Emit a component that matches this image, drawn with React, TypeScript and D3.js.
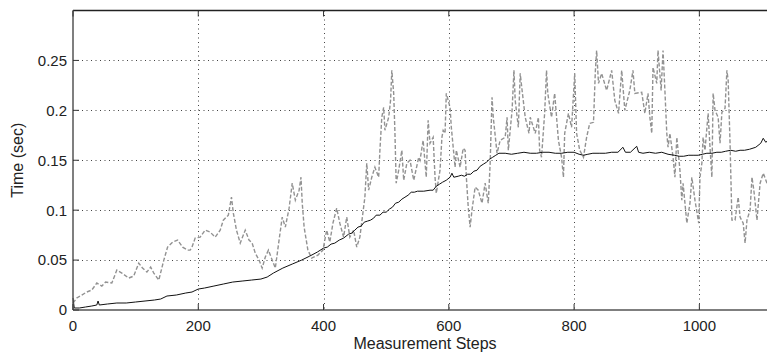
import React from "react";
import * as d3 from "d3";

const W = 767;
const H = 353;

const xTicks = [0, 200, 400, 600, 800, 1000];
const yTicks = [0, 0.05, 0.1, 0.15, 0.2, 0.25];
const yTickLabels = ["0", "0.05", "0.1", "0.15", "0.2", "0.25"];

const blackSeries: [number, number][] = [
  [0, 0.012], [2, 0.002], [10, 0.002], [20, 0.003], [30, 0.004], [38, 0.005], [40, 0.009], [42, 0.005],
  [55, 0.006], [70, 0.007], [85, 0.007], [100, 0.008], [115, 0.009], [130, 0.01], [140, 0.011], [150, 0.014],
  [165, 0.015], [180, 0.017], [190, 0.018], [200, 0.021], [210, 0.022], [225, 0.024], [240, 0.026], [255, 0.028],
  [270, 0.029], [285, 0.03], [300, 0.031], [310, 0.033], [320, 0.037], [335, 0.042], [350, 0.046], [365, 0.05],
  [378, 0.054], [390, 0.058], [400, 0.062], [406, 0.063], [412, 0.066], [418, 0.067], [425, 0.07], [432, 0.072],
  [440, 0.076], [445, 0.077], [450, 0.08], [455, 0.083], [460, 0.084], [465, 0.088], [470, 0.089], [475, 0.09],
  [480, 0.092], [484, 0.095], [490, 0.095], [495, 0.098], [500, 0.098], [505, 0.101], [510, 0.103], [515, 0.107],
  [520, 0.108], [525, 0.111], [530, 0.113], [535, 0.115], [540, 0.118], [545, 0.118], [550, 0.119], [560, 0.119],
  [570, 0.12], [575, 0.12], [580, 0.124], [585, 0.126], [590, 0.128], [596, 0.13], [602, 0.133], [605, 0.137],
  [608, 0.133], [615, 0.134], [620, 0.135], [625, 0.134], [630, 0.136], [635, 0.136], [640, 0.139], [645, 0.14],
  [650, 0.144], [655, 0.146], [660, 0.148], [665, 0.151], [670, 0.153], [675, 0.155], [680, 0.157], [690, 0.157],
  [700, 0.156], [710, 0.157], [720, 0.158], [730, 0.157], [740, 0.157], [750, 0.158], [760, 0.158], [770, 0.157],
  [780, 0.157], [790, 0.158], [800, 0.158], [808, 0.156], [815, 0.155], [822, 0.156], [830, 0.157], [840, 0.157],
  [850, 0.157], [860, 0.158], [870, 0.158], [878, 0.163], [882, 0.158], [890, 0.158], [900, 0.164], [903, 0.158],
  [910, 0.157], [920, 0.158], [930, 0.157], [940, 0.158], [950, 0.156], [960, 0.155], [968, 0.154], [975, 0.154],
  [983, 0.155], [990, 0.155], [998, 0.155], [1005, 0.156], [1012, 0.157], [1020, 0.157], [1028, 0.158],
  [1035, 0.158], [1042, 0.159], [1050, 0.16], [1058, 0.159], [1065, 0.16], [1072, 0.16], [1080, 0.161],
  [1090, 0.163], [1098, 0.167], [1102, 0.172], [1106, 0.168], [1108, 0.169],
];

const graySeries: [number, number][] = [
  [0, 0.007], [6, 0.012], [14, 0.015], [22, 0.018], [30, 0.02], [38, 0.027], [46, 0.024], [52, 0.028], [62, 0.027],
  [70, 0.04], [78, 0.037], [89, 0.032], [97, 0.034], [105, 0.047], [111, 0.042], [118, 0.038], [124, 0.043],
  [129, 0.037], [137, 0.03], [145, 0.05], [151, 0.063], [159, 0.068], [167, 0.07], [175, 0.063], [183, 0.06],
  [187, 0.06], [190, 0.063], [195, 0.072], [203, 0.073], [211, 0.08], [219, 0.078], [227, 0.073], [235, 0.08],
  [240, 0.09], [248, 0.095], [253, 0.113], [256, 0.097], [261, 0.08], [267, 0.067], [275, 0.08], [281, 0.07],
  [286, 0.067], [291, 0.057], [297, 0.05], [302, 0.042], [307, 0.053], [312, 0.06], [318, 0.05], [323, 0.042],
  [329, 0.07], [334, 0.093], [339, 0.083], [345, 0.102], [350, 0.127], [355, 0.11], [361, 0.12], [364, 0.133],
  [366, 0.107], [369, 0.083], [375, 0.06], [381, 0.052], [391, 0.055], [399, 0.06], [405, 0.08], [410, 0.068],
  [415, 0.087], [421, 0.102], [426, 0.087], [432, 0.073], [437, 0.093], [442, 0.073], [448, 0.08], [453, 0.063],
  [458, 0.073], [464, 0.103], [466, 0.113], [469, 0.147], [472, 0.12], [477, 0.133], [482, 0.143], [488, 0.133],
  [490, 0.16], [493, 0.193], [496, 0.203], [498, 0.18], [504, 0.193], [507, 0.21], [509, 0.24], [512, 0.217],
  [514, 0.177], [516, 0.127], [520, 0.14], [525, 0.16], [528, 0.13], [533, 0.147], [538, 0.15], [544, 0.13],
  [552, 0.153], [554, 0.15], [559, 0.17], [564, 0.133], [567, 0.19], [570, 0.167], [575, 0.173], [578, 0.133],
  [580, 0.117], [586, 0.14], [589, 0.173], [591, 0.18], [594, 0.177], [596, 0.217], [599, 0.21], [602, 0.203],
  [604, 0.183], [607, 0.163], [610, 0.143], [612, 0.16], [618, 0.143], [623, 0.162], [626, 0.16], [628, 0.133],
  [631, 0.103], [634, 0.083], [637, 0.1], [642, 0.123], [647, 0.12], [653, 0.107], [658, 0.127], [663, 0.107],
  [666, 0.147], [669, 0.213], [671, 0.193], [677, 0.157], [682, 0.17], [690, 0.173], [693, 0.193], [695, 0.16],
  [701, 0.2], [704, 0.24], [706, 0.21], [711, 0.183], [714, 0.237], [717, 0.22], [722, 0.193], [728, 0.177],
  [730, 0.193], [738, 0.177], [743, 0.193], [745, 0.16], [748, 0.153], [753, 0.197], [756, 0.24], [758, 0.217],
  [764, 0.193], [769, 0.217], [775, 0.17], [780, 0.153], [783, 0.133], [785, 0.177], [791, 0.197], [796, 0.183],
  [801, 0.237], [804, 0.177], [809, 0.16], [815, 0.153], [820, 0.173], [825, 0.187], [831, 0.188], [834, 0.24],
  [836, 0.26], [839, 0.227], [844, 0.237], [852, 0.22], [860, 0.24], [865, 0.21], [871, 0.197], [876, 0.24],
  [881, 0.2], [889, 0.22], [894, 0.24], [897, 0.217], [908, 0.218], [913, 0.197], [918, 0.217], [921, 0.193],
  [924, 0.177], [926, 0.243], [932, 0.227], [934, 0.26], [939, 0.22], [942, 0.26], [945, 0.22], [948, 0.177],
  [950, 0.163], [953, 0.177], [958, 0.153], [961, 0.133], [964, 0.173], [969, 0.14], [972, 0.11], [974, 0.127],
  [980, 0.087], [985, 0.107], [988, 0.133], [993, 0.11], [999, 0.087], [1001, 0.133], [1004, 0.147],
  [1006, 0.173], [1009, 0.16], [1014, 0.197], [1017, 0.163], [1020, 0.133], [1022, 0.217], [1025, 0.2],
  [1030, 0.193], [1033, 0.167], [1036, 0.198], [1041, 0.202], [1044, 0.24], [1046, 0.23], [1049, 0.167],
  [1052, 0.09], [1057, 0.09], [1062, 0.113], [1065, 0.093], [1070, 0.087], [1073, 0.067], [1076, 0.09],
  [1081, 0.1], [1084, 0.133], [1087, 0.12], [1092, 0.09], [1097, 0.127], [1102, 0.137], [1108, 0.127],
];

const xLabel = "Measurement Steps";
const yLabel = "Time (sec)";

export default function App() {
  const left = 73;
  const right = 767;
  const top = 10.5;
  const bottom = 310;
  const x = d3.scaleLinear().domain([0, 1108]).range([left, right]);
  const y = d3.scaleLinear().domain([0, 0.3]).range([bottom, top]);
  const line = d3
    .line<[number, number]>()
    .x((d) => x(d[0]))
    .y((d) => y(d[1]));
  const font = "'Liberation Sans', Arial, Helvetica, sans-serif";

  return (
    <svg
      width={W}
      height={H}
      style={{ position: "absolute", left: 0, top: 0, background: "#fff" }}
    >
      <rect x={0} y={0} width={W} height={H} fill="#fff" />
      {xTicks.slice(1).map((t) => (
        <line
          key={"gx" + t}
          x1={Math.round(x(t)) + 0.5}
          x2={Math.round(x(t)) + 0.5}
          y1={top}
          y2={bottom}
          stroke="#444"
          strokeWidth={1}
          strokeDasharray="1,3.5"
        />
      ))}
      {yTicks.slice(1).map((t) => (
        <line
          key={"gy" + t}
          x1={left}
          x2={right}
          y1={Math.round(y(t)) + 0.5}
          y2={Math.round(y(t)) + 0.5}
          stroke="#444"
          strokeWidth={1}
          strokeDasharray="1,3.5"
        />
      ))}
      <path
        d={line(graySeries) || ""}
        fill="none"
        stroke="#929292"
        strokeWidth={1.4}
        strokeDasharray="4,2"
      />
      <path d={line(blackSeries) || ""} fill="none" stroke="#111" strokeWidth={1} />
      <line x1={left} x2={right} y1={top} y2={top} stroke="#222" strokeWidth={1.3} />
      <line x1={left} x2={left} y1={top} y2={bottom} stroke="#555" strokeWidth={1.5} />
      <line x1={left} x2={right} y1={bottom} y2={bottom} stroke="#555" strokeWidth={1.5} />
      {xTicks.map((t) => (
        <g key={"xt" + t}>
          <line x1={x(t)} x2={x(t)} y1={bottom} y2={bottom - 6} stroke="#333" strokeWidth={1} />
          <line x1={x(t)} x2={x(t)} y1={top} y2={top + 6} stroke="#333" strokeWidth={1} />
          <text
            x={x(t)}
            y={bottom + 21}
            textAnchor="middle"
            fontFamily={font}
            fontSize={15}
            fill="#222"
          >
            {t}
          </text>
        </g>
      ))}
      {yTicks.map((t, i) => (
        <g key={"yt" + t}>
          <line x1={left} x2={left + 6} y1={y(t)} y2={y(t)} stroke="#333" strokeWidth={1} />
          <text
            x={left - 6}
            y={y(t)}
            dy="0.36em"
            textAnchor="end"
            fontFamily={font}
            fontSize={15}
            fill="#222"
          >
            {yTickLabels[i]}
          </text>
        </g>
      ))}
      <text
        x={425}
        y={349}
        textAnchor="middle"
        fontFamily={font}
        fontSize={16}
        fill="#222"
      >
        {xLabel}
      </text>
      <text
        transform={`translate(23, ${(top + bottom) / 2}) rotate(-90)`}
        textAnchor="middle"
        fontFamily={font}
        fontSize={16}
        fill="#222"
      >
        {yLabel}
      </text>
    </svg>
  );
}
